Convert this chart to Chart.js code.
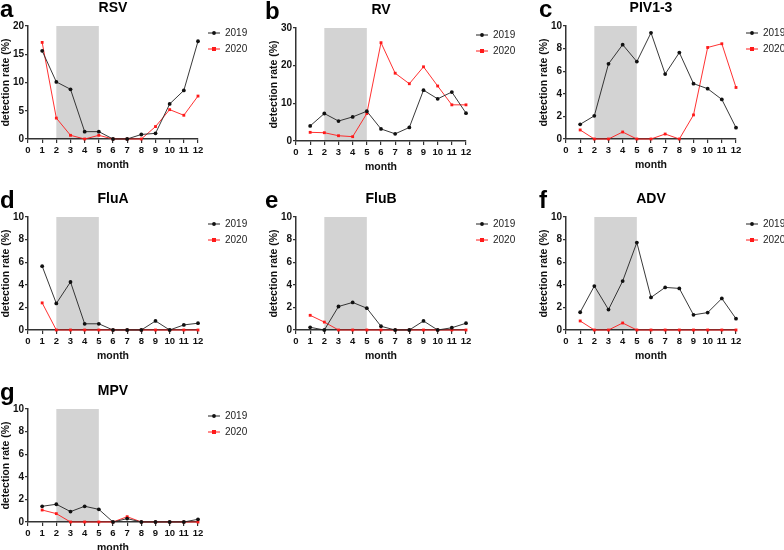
<!DOCTYPE html>
<html>
<head>
<meta charset="utf-8">
<script src="https://cdn.jsdelivr.net/npm/chart.js@4/dist/chart.umd.min.js"></script>
<style>
  body { margin: 0; width: 784px; height: 550px; overflow: hidden; position: relative; background: #fff;
         font-family: "Liberation Sans", Arial, sans-serif; }
  .panel { position: absolute; width: 262px; height: 180px; }
  .panel canvas { position: absolute; left: 0; top: 0; }
  .letter { position: absolute; font-weight: bold; font-size: 24px; line-height: 24px; color: #000; }
  .title { position: absolute; width: 170px; text-align: center; font-weight: bold; font-size: 14px;
           line-height: 14px; color: #000; }
</style>
</head>
<body>
<script>
const months = [1, 2, 3, 4, 5, 6, 7, 8, 9, 10, 11, 12];
const years = ['2019', '2020'];
const lockdown = [2, 5];

const rsv2019 = [15.6, 10.1, 8.8, 1.3, 1.3, 0, 0, 0.8, 1.0, 6.2, 8.6, 17.3];
const rsv2020 = [17.1, 3.7, 0.65, 0, 0.65, 0, 0, 0, 2.2, 5.2, 4.2, 7.6];
const rv2019 = [4.0, 7.3, 5.3, 6.4, 7.9, 3.2, 1.9, 3.6, 13.5, 11.2, 13.0, 7.4];
const rv2020 = [2.3, 2.2, 1.4, 1.15, 7.3, 26.1, 18.0, 15.2, 19.7, 14.6, 9.6, 9.6];
const piv2019 = [1.3, 2.05, 6.65, 8.35, 6.85, 9.4, 5.75, 7.65, 4.9, 4.45, 3.5, 1.0];
const piv2020 = [0.8, 0, 0, 0.62, 0, 0, 0.44, 0, 2.13, 8.1, 8.43, 4.56];
const fluA2019 = [5.65, 2.35, 4.25, 0.55, 0.55, 0, 0, 0, 0.8, 0, 0.45, 0.6];
const fluA2020 = [2.4, 0, 0, 0, 0, 0, 0, 0, 0, 0, 0, 0];
const fluB2019 = [0.24, 0, 2.08, 2.44, 1.93, 0.33, 0, 0, 0.8, 0, 0.2, 0.6];
const fluB2020 = [1.3, 0.7, 0, 0, 0, 0, 0, 0, 0, 0, 0, 0];
const adv2019 = [1.57, 3.89, 1.81, 4.33, 7.74, 2.88, 3.77, 3.68, 1.34, 1.54, 2.79, 1.0];
const adv2020 = [0.8, 0, 0, 0.62, 0, 0, 0, 0, 0, 0, 0, 0];
const mpv2019 = [1.39, 1.57, 0.92, 1.39, 1.12, 0, 0.3, 0, 0, 0, 0, 0.24];
const mpv2020 = [1.06, 0.74, 0, 0, 0, 0, 0.47, 0, 0, 0, 0, 0];

// panel layout: letter, title, series, y range, canvas position
const panels = [
  { letter: 'a', title: 'RSV',    s19: rsv2019,  s20: rsv2020,  yMax: 20, yStep: 5,  left: 0,   top: 0 },
  { letter: 'b', title: 'RV',     s19: rv2019,   s20: rv2020,   yMax: 30, yStep: 10, left: 268, top: 2 },
  { letter: 'c', title: 'PIV1-3', s19: piv2019,  s20: piv2020,  yMax: 10, yStep: 2,  left: 538, top: 0 },
  { letter: 'd', title: 'FluA',   s19: fluA2019, s20: fluA2020, yMax: 10, yStep: 2,  left: 0,   top: 191 },
  { letter: 'e', title: 'FluB',   s19: fluB2019, s20: fluB2020, yMax: 10, yStep: 2,  left: 268, top: 191 },
  { letter: 'f', title: 'ADV',    s19: adv2019,  s20: adv2020,  yMax: 10, yStep: 2,  left: 538, top: 191 },
  { letter: 'g', title: 'MPV',    s19: mpv2019,  s20: mpv2020,  yMax: 10, yStep: 2,  left: 0,   top: 383 }
];

const FONT = '"Liberation Sans", Arial, sans-serif';
const AXIS = '#333';
const RED = '#ff1a1a';

const shadePlugin = {
  id: 'shade',
  beforeDraw(chart) {
    const { ctx, chartArea, scales } = chart;
    const x1 = scales.x.getPixelForValue(lockdown[0]);
    const x2 = scales.x.getPixelForValue(lockdown[1]);
    ctx.save();
    ctx.fillStyle = '#d3d3d3';
    ctx.fillRect(x1, chartArea.top, x2 - x1, chartArea.bottom - chartArea.top);
    ctx.restore();
  }
};

const legendPlugin = {
  id: 'sideLegend',
  afterDraw(chart) {
    const { ctx, chartArea } = chart;
    ctx.save();
    chart.data.datasets.forEach((ds, i) => {
      const y = chartArea.top + 7 + i * 16;
      const x0 = chartArea.right + 10;
      ctx.strokeStyle = ds.borderColor;
      ctx.lineWidth = 1;
      ctx.beginPath();
      ctx.moveTo(x0, y);
      ctx.lineTo(x0 + 12, y);
      ctx.stroke();
      ctx.fillStyle = ds.pointBackgroundColor;
      if (ds.pointStyle === 'rect') ctx.fillRect(x0 + 4, y - 2, 4, 4);
      else { ctx.beginPath(); ctx.arc(x0 + 6, y, 1.9, 0, Math.PI * 2); ctx.fill(); }
      ctx.fillStyle = '#222';
      ctx.font = '10px ' + FONT;
      ctx.textBaseline = 'middle';
      ctx.fillText(ds.label, x0 + 17, y + 0.5);
    });
    ctx.restore();
  }
};

panels.forEach(p => {
  const box = document.createElement('div');
  box.className = 'panel';
  box.style.left = p.left + 'px';
  box.style.top = p.top + 'px';
  const canvas = document.createElement('canvas');
  canvas.width = 262;
  canvas.height = 180;
  box.appendChild(canvas);
  document.body.appendChild(box);

  const letter = document.createElement('div');
  letter.className = 'letter';
  letter.textContent = p.letter;
  letter.style.left = (p.left === 268 ? p.left - 3 : p.left === 538 ? p.left + 1 : p.left) + 'px';
  letter.style.top = (p.top - 3) + 'px';
  document.body.appendChild(letter);

  const title = document.createElement('div');
  title.className = 'title';
  title.textContent = p.title;
  title.style.left = (p.left + 28) + 'px';
  title.style.top = p.top + 'px';
  document.body.appendChild(title);

  new Chart(canvas, {
    type: 'line',
    data: {
      datasets: [
        {
          label: years[0],
          data: months.map((m, i) => ({ x: m, y: p.s19[i] })),
          borderColor: '#222',
          backgroundColor: '#111',
          pointBackgroundColor: '#111',
          pointBorderWidth: 0,
          pointRadius: 1.9,
          pointStyle: 'circle',
          borderWidth: 0.9,
          clip: false
        },
        {
          label: years[1],
          data: months.map((m, i) => ({ x: m, y: p.s20[i] })),
          borderColor: RED,
          backgroundColor: RED,
          pointBackgroundColor: RED,
          pointBorderWidth: 0,
          pointRadius: 2,
          pointStyle: 'rect',
          borderWidth: 0.9,
          clip: false
        }
      ]
    },
    options: {
      responsive: false,
      animation: false,
      devicePixelRatio: 1,
      layout: { padding: { left: 0, top: 26, right: 64, bottom: 0 } },
      plugins: { legend: { display: false }, tooltip: { enabled: false } },
      elements: { line: { tension: 0 } },
      scales: {
        x: {
          type: 'linear',
          min: 0,
          max: 12,
          afterFit: s => { s.height = 41; },
          ticks: { stepSize: 1, autoSkip: false, maxRotation: 0, padding: 2, color: '#111',
                   font: { family: FONT, size: 9.5, weight: 'bold' } },
          grid: { drawOnChartArea: false, drawTicks: true, tickLength: 4, color: AXIS, lineWidth: 1.2 },
          border: { color: AXIS, width: 1.5 },
          title: { display: true, text: 'month', color: '#111', padding: { top: 0, bottom: 9 },
                   font: { family: FONT, size: 10.5, weight: 'bold' } }
        },
        y: {
          min: 0,
          max: p.yMax,
          afterFit: s => { s.width = 28; },
          ticks: { stepSize: p.yStep, padding: 1, color: '#111',
                   font: { family: FONT, size: 10, weight: 'bold' } },
          grid: { drawOnChartArea: false, drawTicks: true, tickLength: 3, color: AXIS, lineWidth: 1.2 },
          border: { color: AXIS, width: 1.5 },
          title: { display: true, text: 'detection rate (%)', color: '#111', padding: { top: 0, bottom: 0 },
                   font: { family: FONT, size: 10.5, weight: 'bold' } }
        }
      }
    },
    plugins: [shadePlugin, legendPlugin]
  });
});
</script>
</body>
</html>
